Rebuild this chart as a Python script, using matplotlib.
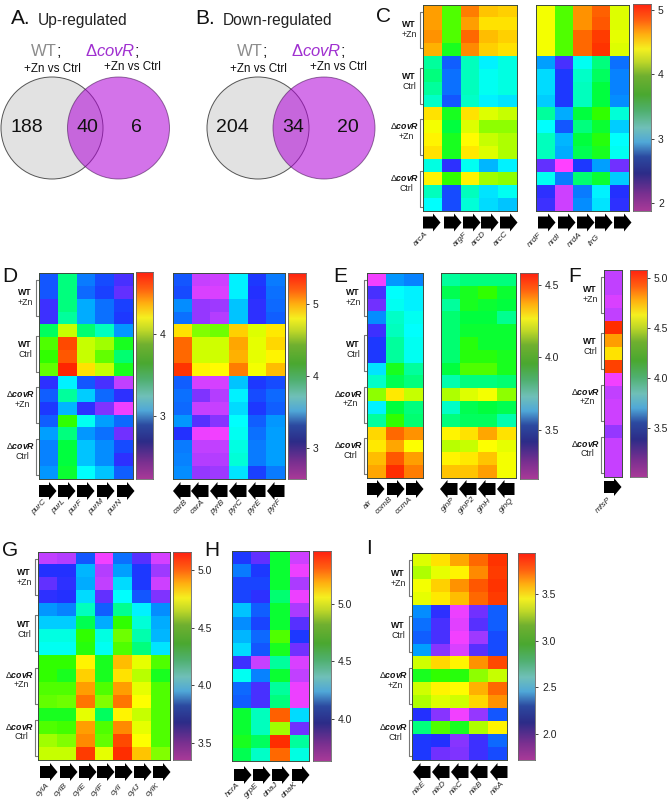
import numpy as np
import matplotlib
matplotlib.use('Agg')
import matplotlib.pyplot as plt
from matplotlib.colors import LinearSegmentedColormap
from matplotlib.patches import Circle, Polygon

plt.rcParams['font.family'] = ['Liberation Sans', 'DejaVu Sans']
plt.rcParams['mathtext.fontset'] = 'custom'
plt.rcParams['mathtext.rm'] = 'Liberation Sans'
plt.rcParams['mathtext.it'] = 'Liberation Sans:italic'
plt.rcParams['mathtext.bf'] = 'Liberation Sans:bold'
plt.rcParams['mathtext.bfit'] = 'Liberation Sans:italic:bold'

W, H = 668, 800

# venn counts
up_counts = [188, 40, 6]
down_counts = [204, 34, 20]

# heatmap cells, read as percent of the height of each panel's colour scale
c_left = [[85, 62, 88, 81, 80], [85, 62, 85, 78, 78], [86, 62, 90, 82, 80], [83, 58, 87, 80, 78],
          [50, 28, 48, 42, 45], [52, 30, 48, 44, 45], [50, 30, 48, 44, 45], [47, 27, 47, 42, 41],
          [78, 58, 78, 72, 70], [74, 56, 72, 66, 66], [76, 58, 75, 70, 68], [78, 58, 77, 72, 68],
          [45, 22, 44, 37, 42], [76, 60, 76, 67, 66], [48, 26, 48, 41, 44], [43, 26, 46, 40, 38]]
c_right = [[74, 62, 86, 91, 72], [74, 62, 86, 92, 72], [74, 62, 90, 96, 73], [74, 62, 90, 97, 72],
           [35, 20, 44, 52, 30], [40, 24, 47, 54, 32], [40, 24, 48, 56, 32], [39, 24, 48, 56, 33],
           [50, 36, 56, 60, 46], [43, 27, 52, 57, 39], [48, 37, 56, 59, 43], [48, 36, 55, 58, 44],
           [18, 0, 24, 35, 17], [44, 31, 53, 57, 39], [22, 8, 31, 42, 23], [21, 8, 33, 41, 22]]
d_left = [[27, 52, 31, 26, 20], [27, 52, 29, 25, 18], [21, 52, 36, 30, 25], [21, 50, 36, 30, 24],
          [54, 70, 53, 48, 34], [62, 94, 70, 67, 58], [60, 92, 70, 63, 53], [63, 99, 78, 70, 58],
          [22, 42, 27, 20, 10], [28, 50, 39, 29, 22], [24, 37, 22, 16, 3], [28, 60, 44, 35, 29],
          [35, 52, 34, 30, 17], [32, 56, 38, 33, 26], [32, 56, 38, 33, 22], [34, 57, 43, 38, 28]]
d_right = [[27, 9, 8, 42, 24, 31], [26, 6, 6, 42, 23, 30], [33, 14, 13, 38, 22, 29], [30, 14, 11, 38, 22, 28],
           [78, 65, 64, 80, 72, 77], [90, 71, 71, 84, 73, 79], [90, 71, 71, 83, 73, 76], [97, 76, 75, 88, 74, 82],
           [28, 7, 7, 38, 24, 26], [30, 16, 11, 42, 26, 29], [29, 9, 9, 40, 24, 28], [34, 19, 15, 43, 28, 34],
           [23, 3, 2, 44, 30, 35], [31, 10, 10, 45, 31, 35], [32, 11, 11, 46, 31, 35], [33, 14, 13, 41, 25, 31]]
e_left = [[2, 34, 32], [20, 43, 42], [17, 44, 42], [33, 47, 44],
          [21, 48, 43], [24, 50, 44], [24, 50, 44], [41, 58, 50],
          [47, 55, 52], [66, 77, 70], [42, 56, 52], [50, 60, 53],
          [79, 90, 86], [77, 84, 75], [82, 92, 85], [84, 98, 88]]
e_right = [[50, 52, 52, 52], [55, 58, 60, 57], [50, 58, 57, 56], [53, 56, 56, 51],
           [53, 57, 57, 57], [53, 59, 57, 57], [53, 59, 59, 58], [56, 62, 62, 58],
           [49, 52, 52, 53], [68, 72, 74, 66], [47, 55, 56, 55], [52, 54, 54, 49],
           [76, 78, 84, 78], [69, 70, 75, 73], [76, 77, 81, 74], [81, 81, 85, 74]]
f_cells = [[10], [10], [6], [10], [98], [85], [78], [95], [2], [10], [8], [8], [14], [9], [9], [9]]
g_cells = [[10, 11, 27, 2, 30, 19, 7], [23, 23, 37, 11, 35, 24, 13], [18, 22, 36, 10, 40, 24, 8], [22, 23, 40, 18, 43, 27, 16],
           [34, 32, 48, 28, 51, 42, 33], [39, 39, 55, 36, 60, 46, 36], [45, 45, 60, 45, 64, 49, 37], [44, 44, 59, 44, 62, 52, 41],
           [60, 60, 76, 58, 82, 73, 62], [60, 58, 80, 58, 78, 69, 58], [62, 62, 85, 62, 85, 73, 62], [63, 64, 89, 65, 89, 75, 62],
           [58, 58, 73, 54, 76, 70, 62], [62, 61, 85, 62, 87, 73, 62], [67, 65, 87, 63, 94, 75, 62], [70, 70, 96, 73, 98, 81, 65]]
h_cells = [[24, 18, 57, 8], [31, 24, 57, 3], [25, 25, 57, 12], [25, 22, 53, 3],
           [38, 28, 57, 12], [33, 25, 57, 19], [37, 29, 62, 24], [40, 27, 58, 17],
           [21, 9, 50, 6], [44, 32, 57, 10], [29, 20, 50, 3], [28, 20, 52, 3],
           [57, 48, 91, 40], [57, 48, 67, 17], [58, 54, 98, 50], [55, 47, 90, 45]]
i_cells = [[72, 78, 84, 90, 97], [68, 73, 76, 87, 96], [74, 80, 86, 92, 97], [73, 77, 82, 90, 96],
           [33, 22, 3, 17, 28], [30, 20, 5, 19, 28], [28, 20, 2, 13, 26], [35, 15, 6, 19, 26],
           [71, 79, 76, 86, 94], [58, 60, 59, 66, 70], [71, 76, 75, 83, 90], [68, 72, 71, 79, 86],
           [23, 15, 2, 14, 27], [52, 62, 58, 68, 76], [24, 23, 15, 21, 29], [24, 17, 16, 21, 26]]

c_left_genes = ['arcA', 'argF', 'arcD', 'arcC']
c_right_genes = ['nrdF', 'nrdI', 'nrdA', 'ilrG']
d_left_genes = ['purC', 'purL', 'purF', 'purM', 'purN']
d_right_genes = ['carB', 'carA', 'pyrB', 'pyrC', 'pyrE', 'pyrF']
e_left_genes = ['alr', 'comB', 'ccmA']
e_right_genes = ['glnP', 'glnP2', 'glnH', 'glnQ']
f_genes = ['mfsP']
g_genes = ['cylA', 'cylB', 'cylE', 'cylF', 'cylI', 'cylJ', 'cylK']
h_genes = ['hcrA', 'grpE', 'dnaJ', 'dnaK']
i_genes = ['nikE', 'nikD', 'nikC', 'nikB', 'nikA']

# colour scale limits and ticks of each colour bar
c_range, c_ticks = (1.875, 5.09), [2, 3, 4, 5]
dl_range, dl_ticks = (2.23, 4.76), [3, 4]
dr_range, dr_ticks = (2.57, 5.43), [3, 4, 5]
e_range, e_ticks = (3.16, 4.58), [3.5, 4.0, 4.5]
f_range, f_ticks = (3.01, 5.08), [3.5, 4.0, 4.5, 5.0]
g_range, g_ticks = (3.35, 5.16), [3.5, 4.0, 4.5, 5.0]
h_range, h_ticks = (3.63, 5.46), [4.0, 4.5, 5.0]
i_range, i_ticks = (1.72, 3.94), [2.0, 2.5, 3.0, 3.5]

# the cells are bright, the printed colour bars are duller
cell_cmap = LinearSegmentedColormap.from_list('cells', [
    (0, '#ff40ff'), (.10, '#c040ff'), (.17, '#7030ff'), (.23, '#2030ff'), (.28, '#1060ff'),
    (.35, '#00a0ff'), (.39, '#00d0ff'), (.43, '#00ffff'), (.50, '#00ffa0'), (.56, '#00ff40'),
    (.60, '#30ff00'), (.67, '#a0ff00'), (.71, '#d0ff00'), (.75, '#ffff00'), (.80, '#ffd000'),
    (.85, '#ffa000'), (.91, '#ff6000'), (1, '#ff2000')])
bar_cmap = LinearSegmentedColormap.from_list('bar', [
    (0, '#a83a98'), (.08, '#7a3090'), (.18, '#2c2c88'), (.26, '#2c4aa0'), (.33, '#50a8d8'),
    (.40, '#70c0b8'), (.48, '#50b070'), (.56, '#4aa830'), (.65, '#70b030'), (.72, '#c0d828'),
    (.78, '#f5f020'), (.85, '#ffb010'), (.92, '#ff6010'), (1, '#ff2010')])

fig = plt.figure(figsize=(W / 100, H / 100), dpi=100)
bg = fig.add_axes([0, 0, 1, 1])
bg.set_xlim(0, W)
bg.set_ylim(H, 0)
bg.axis('off')


def px_axes(x0, y0, x1, y1):
    return fig.add_axes([x0 / W, 1 - y1 / H, (x1 - x0) / W, (y1 - y0) / H])


def heat(cells, rng, x0, y0, x1, y1):
    lo, hi = rng
    vals = lo + np.array(cells) / 100 * (hi - lo)
    ax = px_axes(x0, y0, x1, y1)
    ax.imshow(vals, cmap=cell_cmap, vmin=lo, vmax=hi, aspect='auto', interpolation='nearest')
    ax.set_xticks([])
    ax.set_yticks([])
    for s in ax.spines.values():
        s.set_linewidth(0.7)
        s.set_color('#3c4a3c')


def colorbar(rng, ticks, x0, y0, x1, y1, fmt='%.1f'):
    lo, hi = rng
    ax = px_axes(x0, y0, x1, y1)
    grad = np.linspace(hi, lo, 256).reshape(-1, 1)
    ax.imshow(grad, cmap=bar_cmap, vmin=lo, vmax=hi, aspect='auto',
              extent=[0, 1, lo, hi], interpolation='bilinear')
    ax.set_xticks([])
    ax.yaxis.tick_right()
    ax.set_yticks(ticks)
    ax.set_yticklabels([fmt % t for t in ticks])
    ax.tick_params(axis='y', length=2, width=0.6, pad=3, labelsize=7.5, color='#222222', labelcolor='#222222')
    for s in ax.spines.values():
        s.set_linewidth(0.6)
        s.set_color('#666666')


def group_labels(x0, y0, y1):
    k = (y1 - y0) / 207
    names = ['WT', 'WT', r'$\Delta\mathbfit{covR}$', r'$\Delta\mathbfit{covR}$']
    subs = ['+Zn', 'Ctrl', '+Zn', 'Ctrl']
    tops = [7, 63, 115, 167]
    for i in range(4):
        t = y0 + tops[i] * k
        b = t + 36 * k
        bg.plot([x0 - 0.5, x0 - 3.5, x0 - 3.5, x0 - 0.5], [t, t, b, b], color='#777777', lw=0.8)
        cx = x0 - 14 if i < 2 else x0 - 18
        offs = [20, 72, 122, 174][i] * k
        bg.text(cx, y0 + offs, names[i], ha='center', va='center', fontsize=6.3,
                fontweight='bold', color='#111111')
        bg.text(x0 - 14 if i < 2 else x0 - 17, y0 + offs + 10, subs[i], ha='center', va='center',
                fontsize=6.3, color='#222222')


def arrows(starts, yc, direction=1, length=17.5):
    for s in starts:
        if direction > 0:
            xs = [s, s + 10, s + 10, s + length, s + 10, s + 10, s]
        else:
            xs = [s + length, s + 7.5, s + 7.5, s, s + 7.5, s + 7.5, s + length]
        ys = [yc - 6, yc - 6, yc - 9, yc, yc + 9, yc + 6, yc + 6]
        bg.add_patch(Polygon(list(zip(xs, ys)), closed=True, color='black', lw=0))


def gene_names(names, xs, y):
    for n, x in zip(names, xs):
        bg.text(x, y, n, rotation=45, ha='center', va='center', fontsize=6,
                fontstyle='italic', color='#222222')


def venn(x_left, x_right, cy, r, counts, count_x):
    bg.add_patch(Circle((x_left, cy), r, fc='#e2e2e2', ec='#555555', lw=0.7))
    bg.add_patch(Circle((x_right, cy), r, fc='#b000d8', ec='#401050', lw=0.7, alpha=0.55))
    for n, x in zip(counts, count_x):
        bg.text(x, cy - 1, str(n), ha='center', va='center', fontsize=14, color='#111111')


# panels A and B
venn(52, 118.5, 128, 51, up_counts, [27, 87, 136])
venn(258, 324, 128, 51, down_counts, [232, 293, 348])
bg.text(11, 18, 'A.', fontsize=15, va='center', color='#111111')
bg.text(38, 20, 'Up-regulated', fontsize=11.2, va='center', color='#222222')
bg.text(195, 18, 'B.', fontsize=15, va='center', color='#111111')
bg.text(223, 20, 'Down-regulated', fontsize=11.2, va='center', color='#222222')
for x in [52, 258]:
    bg.text(x + 5, 51, 'WT', fontsize=12, ha='right', va='center', color='#8c8c8c')
    bg.text(x + 5, 51, ';', fontsize=12, ha='left', va='center', color='#222222')
    bg.text(x, 69, '+Zn vs Ctrl', fontsize=8.4, ha='center', va='center', color='#111111')
for x, x2 in [(122, 132), (328, 338)]:
    bg.text(x + 13, 51, r'$\Delta\mathit{covR}$', fontsize=12, ha='right', va='center', color='#a030d0')
    bg.text(x + 13, 51, ';', fontsize=12, ha='left', va='center', color='#222222')
    bg.text(x2, 67, '+Zn vs Ctrl', fontsize=8.4, ha='center', va='center', color='#111111')

# panel C
heat(c_left, c_range, 423, 5, 517, 211)
heat(c_right, c_range, 536, 5, 629, 211)
colorbar(c_range, c_ticks, 633, 4, 651, 211, fmt='%d')
group_labels(423, 5, 211)
arrows([423, 444, 463, 481, 500], 222.5)
arrows([538, 558, 577, 595, 614], 222.5)
gene_names(c_left_genes, [421, 460, 479, 501], 239)
gene_names(c_right_genes, [535, 555, 575, 594], 240)

# panel D
heat(d_left, dl_range, 39, 273, 133, 479)
colorbar(dl_range, dl_ticks, 136, 272, 153, 479, fmt='%d')
heat(d_right, dr_range, 173, 273, 285, 479)
colorbar(dr_range, dr_ticks, 288, 273, 306, 479, fmt='%d')
group_labels(39, 273, 479)
arrows([39, 58, 77, 97, 117], 491)
arrows([173, 191, 210, 229, 248, 267], 491, direction=-1)
gene_names(d_left_genes, [39, 59, 76, 96, 115], 507)
gene_names(d_right_genes, [181, 198, 218, 236, 255, 275], 507)

# panel E
heat(e_left, e_range, 367, 273, 423, 478)
heat(e_right, e_range, 441, 273, 516, 478)
colorbar(e_range, e_ticks, 520, 273, 538, 479)
group_labels(367, 273, 478)
arrows([367, 387, 406], 489)
arrows([440, 459, 478, 497], 489, direction=-1)
gene_names(e_left_genes, [368, 384, 404], 505)
gene_names(e_right_genes, [448, 467, 485, 507], 505)

# panel F
heat(f_cells, f_range, 604, 270, 622, 477)
colorbar(f_range, f_ticks, 630, 270, 647, 477)
group_labels(604, 270, 477)
arrows([604], 487)
gene_names(f_genes, [604], 505)

# panel G
heat(g_cells, g_range, 38, 552, 170, 760)
colorbar(g_range, g_ticks, 173, 552, 191, 760)
group_labels(38, 552, 760)
arrows([40, 60, 79, 97, 115, 134, 153], 772)
gene_names(g_genes, [43, 61, 80, 98, 117, 134, 153], 790)

# panel H
heat(h_cells, h_range, 232, 551, 309, 761)
colorbar(h_range, h_ticks, 313, 551, 331, 761)
arrows([234, 253, 272, 292], 775)
gene_names(h_genes, [233, 252, 271, 290], 790)

# panel I
heat(i_cells, i_range, 412, 553, 507, 760)
colorbar(i_range, i_ticks, 518, 553, 535, 760)
group_labels(412, 553, 760)
arrows([413, 432, 451, 470, 490], 772, direction=-1)
gene_names(i_genes, [420, 440, 457, 477, 498], 788)

# panel letters
for letter, x, y in [('C', 376, 16), ('D', 2, 276), ('E', 333, 276), ('F', 568, 276),
                     ('G', 2, 551), ('H', 204, 550), ('I', 366, 549)]:
    bg.text(x, y, letter, fontsize=15, va='center', color='#111111')

fig.savefig('out.png', dpi=100)
